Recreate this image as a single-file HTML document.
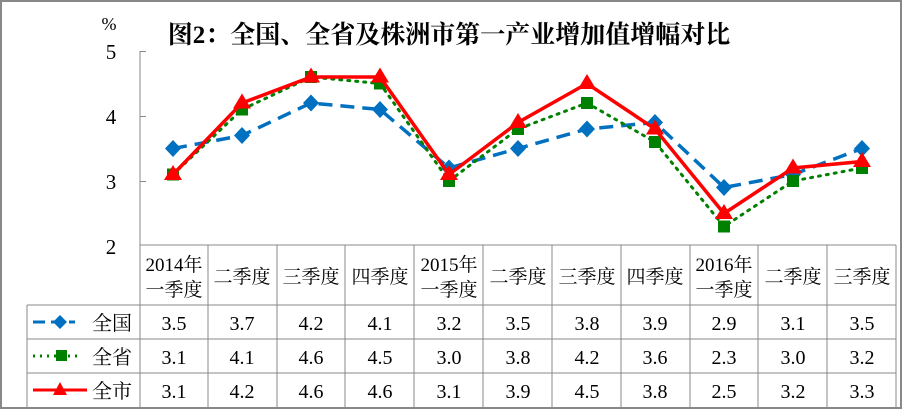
<!DOCTYPE html>
<html><head><meta charset="utf-8"><style>
body{margin:0;background:#fff}
svg text{font-family:"Liberation Serif","Noto Serif CJK SC","Noto Sans CJK SC",serif;}
</style></head><body>
<svg width="902" height="409" xmlns="http://www.w3.org/2000/svg">
<rect x="1" y="1" width="900" height="407" fill="#fff" stroke="#888" stroke-width="2"/>
<text x="449" y="43" text-anchor="middle" font-size="25" font-weight="bold">图2：全国、全省及株洲市第一产业增加值增幅对比</text>
<text x="109" y="30" font-size="18" text-anchor="middle">%</text>
<g font-size="21" text-anchor="middle">
<text x="111" y="59">5</text><text x="111" y="124">4</text><text x="111" y="189">3</text><text x="111" y="254">2</text>
</g>
<g stroke="#888" stroke-width="1" fill="none">
<line x1="140" y1="51" x2="140" y2="407"/>
<line x1="140" y1="51.5" x2="146" y2="51.5"/><line x1="140" y1="116.5" x2="146" y2="116.5"/><line x1="140" y1="181.5" x2="146" y2="181.5"/>
<line x1="140" y1="245" x2="896" y2="245"/>
<line x1="27" y1="305" x2="896" y2="305"/>
<line x1="27" y1="339" x2="896" y2="339"/>
<line x1="27" y1="373" x2="896" y2="373"/>
<line x1="27" y1="305" x2="27" y2="407"/>
<line x1="896" y1="245" x2="896" y2="407"/>
<line x1="208" y1="245" x2="208" y2="407"/><line x1="277" y1="245" x2="277" y2="407"/>
<line x1="345" y1="245" x2="345" y2="407"/><line x1="414" y1="245" x2="414" y2="407"/>
<line x1="483" y1="245" x2="483" y2="407"/><line x1="552" y1="245" x2="552" y2="407"/>
<line x1="621" y1="245" x2="621" y2="407"/><line x1="690" y1="245" x2="690" y2="407"/>
<line x1="758" y1="245" x2="758" y2="407"/><line x1="827" y1="245" x2="827" y2="407"/>
</g>
<g font-size="19" text-anchor="middle">
<text x="174" y="271">2014年</text><text x="174" y="296">一季度</text>
<text x="242" y="283">二季度</text><text x="311" y="283">三季度</text><text x="380" y="283">四季度</text>
<text x="449" y="271">2015年</text><text x="449" y="296">一季度</text>
<text x="518" y="283">二季度</text><text x="587" y="283">三季度</text><text x="655" y="283">四季度</text>
<text x="724" y="271">2016年</text><text x="724" y="296">一季度</text>
<text x="793" y="283">二季度</text><text x="862" y="283">三季度</text>
</g>
<g font-size="20">
<text x="92" y="330">全国</text><text x="92" y="364">全省</text><text x="92" y="398">全市</text>
</g>
<line x1="33" y1="322" x2="75" y2="322" stroke="#0070C0" stroke-width="3" stroke-dasharray="12,6"/>
<path d="M60 315 L67 322 60 329 53 322Z" fill="#0070C0"/>
<line x1="33" y1="356" x2="82" y2="356" stroke="#008000" stroke-width="3" stroke-dasharray="2,5"/>
<rect x="56" y="350" width="11" height="11" fill="#008000"/>
<line x1="33" y1="390" x2="87" y2="390" stroke="#f00" stroke-width="3"/>
<path d="M60 382 L67 395 53 395Z" fill="#f00"/>
<g font-size="20" text-anchor="middle">
<text x="174" y="330">3.5</text><text x="242" y="330">3.7</text><text x="311" y="330">4.2</text><text x="380" y="330">4.1</text><text x="449" y="330">3.2</text><text x="518" y="330">3.5</text><text x="587" y="330">3.8</text><text x="655" y="330">3.9</text><text x="724" y="330">2.9</text><text x="793" y="330">3.1</text><text x="862" y="330">3.5</text>
<text x="174" y="364">3.1</text><text x="242" y="364">4.1</text><text x="311" y="364">4.6</text><text x="380" y="364">4.5</text><text x="449" y="364">3.0</text><text x="518" y="364">3.8</text><text x="587" y="364">4.2</text><text x="655" y="364">3.6</text><text x="724" y="364">2.3</text><text x="793" y="364">3.0</text><text x="862" y="364">3.2</text>
<text x="174" y="398">3.1</text><text x="242" y="398">4.2</text><text x="311" y="398">4.6</text><text x="380" y="398">4.6</text><text x="449" y="398">3.1</text><text x="518" y="398">3.9</text><text x="587" y="398">4.5</text><text x="655" y="398">3.8</text><text x="724" y="398">2.5</text><text x="793" y="398">3.2</text><text x="862" y="398">3.3</text>
</g>
<polyline fill="none" stroke="#0070C0" stroke-width="3.5" stroke-dasharray="14,8" points="173,148.5 242,135.5 311,103 380,109.5 449,168 518,148.5 587,129 655,122.5 724,187.5 793,174.5 862,148.5"/>
<g fill="#0070C0">
<path d="M173 140 l8 8.5 -8 8.5 -8 -8.5Z"/><path d="M242 127 l8 8.5 -8 8.5 -8 -8.5Z"/><path d="M311 94.5 l8 8.5 -8 8.5 -8 -8.5Z"/><path d="M380 101 l8 8.5 -8 8.5 -8 -8.5Z"/><path d="M449 159.5 l8 8.5 -8 8.5 -8 -8.5Z"/><path d="M518 140 l8 8.5 -8 8.5 -8 -8.5Z"/><path d="M587 120.5 l8 8.5 -8 8.5 -8 -8.5Z"/><path d="M655 114 l8 8.5 -8 8.5 -8 -8.5Z"/><path d="M724 179 l8 8.5 -8 8.5 -8 -8.5Z"/><path d="M793 166 l8 8.5 -8 8.5 -8 -8.5Z"/><path d="M862 140 l8 8.5 -8 8.5 -8 -8.5Z"/>
</g>
<polyline fill="none" stroke="#008000" stroke-width="3" stroke-dasharray="2,6" stroke-linecap="round" points="173,174.5 242,109.5 311,77 380,83.5 449,181 518,129 587,103 655,142 724,226.5 793,181 862,168"/>
<g fill="#008000">
<rect x="167" y="168.5" width="12" height="12"/><rect x="236" y="103.5" width="12" height="12"/><rect x="305" y="71" width="12" height="12"/><rect x="374" y="77.5" width="12" height="12"/><rect x="443" y="175" width="12" height="12"/><rect x="512" y="123" width="12" height="12"/><rect x="581" y="97" width="12" height="12"/><rect x="649" y="136" width="12" height="12"/><rect x="718" y="220.5" width="12" height="12"/><rect x="787" y="175" width="12" height="12"/><rect x="856" y="162" width="12" height="12"/>
</g>
<polyline fill="none" stroke="#f00" stroke-width="3.5" points="173,174.5 242,103 311,77 380,77 449,174.5 518,122.5 587,83.5 655,129 724,213.5 793,168 862,161.5"/>
<g fill="#f00">
<path d="M173 165 l9 15 -18 0Z"/><path d="M242 93.5 l9 15 -18 0Z"/><path d="M311 67.5 l9 15 -18 0Z"/><path d="M380 67.5 l9 15 -18 0Z"/><path d="M449 165 l9 15 -18 0Z"/><path d="M518 113 l9 15 -18 0Z"/><path d="M587 74 l9 15 -18 0Z"/><path d="M655 119.5 l9 15 -18 0Z"/><path d="M724 204 l9 15 -18 0Z"/><path d="M793 158.5 l9 15 -18 0Z"/><path d="M862 152 l9 15 -18 0Z"/>
</g>
</svg>
</body></html>
